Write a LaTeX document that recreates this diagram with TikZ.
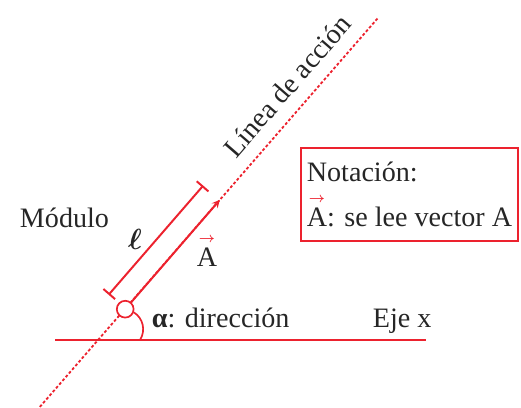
\documentclass[tikz,border=0pt]{standalone}
\usepackage{amsmath}
\usepackage{fontspec}
\setmainfont{Liberation Serif}
\usetikzlibrary{positioning,arrows.meta}

\definecolor{rojo}{RGB}{236,34,46}
\newcommand{\vectA}{$\overset{\textcolor{rojo}{\boldsymbol{\scriptscriptstyle\rightarrow}}}{\mbox{A}}$}

\begin{document}
\begin{tikzpicture}[>=stealth, font=\fontsize{20}{32}\selectfont, text=black!85]
        \useasboundingbox (0,0) rectangle (13.025,10.2);
        \coordinate (O) at (2.45,1.7);
        \coordinate (lo) at (0.997,0.028);
        \coordinate (hi) at (9.47,9.775);
        \coordinate (ejeI) at (1.375,1.7);
        \coordinate (ejeF) at (10.65,1.7);
        \coordinate (tip) at (5.494,5.202);
        \coordinate (modI) at (2.715,2.83);
        \coordinate (modF) at (5.08,5.56);
        \coordinate (ang) at (3.5,1.7);
        \draw[rojo, line width=1.3pt, dash pattern=on 2pt off 1.5pt] (lo) -- (hi);
        \draw[rojo, line width=1.4pt] (ejeI) -- (ejeF);
        \node[circle, draw=rojo, fill=white, line width=1.2pt, minimum size=0.42cm, inner sep=0pt] (pto) at (3.13,2.47) {};
        \draw[->, rojo, line width=1.4pt] (pto) -- (tip);
        \draw[rojo, line width=1.4pt, {Bar[width=11pt]}-{Bar[width=11pt]}] (modI) -- (modF);
        \draw[rojo, line width=1.2pt] (ang) to[bend right=45] (pto.-20);
        \node[anchor=base west] (mod) at (0.375,4.5) {Módulo};
        \node[anchor=base] (ele) at (3.375,3.95) {$\boldsymbol{\ell}$};
        \node[anchor=base] (vec) at (5.175,3.525) {\vectA};
        \node[anchor=base west] (dir) at (3.675,2.0) {{\bfseries α}: dirección};
        \node[anchor=base west] (eje) at (9.2,2.0) {Eje x};
        \node[anchor=base west, rotate=49] (linea) at (5.825,6.125) {Línea de acción};
        \node[draw=rojo, line width=1.2pt, align=left, inner xsep=0.15cm, minimum height=2.325cm] (nota) at (10.2375,5.3375) {Notación:\\\vectA: se lee vector A};
    \end{tikzpicture}
\end{document}
